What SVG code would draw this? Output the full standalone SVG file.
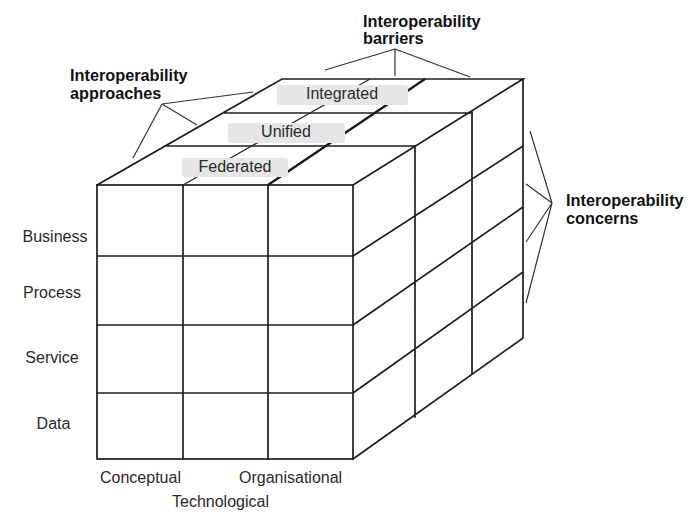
<svg xmlns="http://www.w3.org/2000/svg" width="700" height="512" viewBox="0 0 700 512">
<style>
.cube{stroke:#1e1e1e;stroke-width:1.7;fill:none;stroke-linecap:square}
.thin{stroke:#2a2a2a;stroke-width:1.3;fill:none}
.thick{stroke:#1a1a1a;stroke-width:2.4;fill:none}
.call{stroke:#333;stroke-width:1.2;fill:none}
.box{fill:#e6e6e6;stroke:none}
.lbl{font-family:"Liberation Sans",Arial,sans-serif;font-size:16px;fill:#2a2a2a}
.bold{font-family:"Liberation Sans",Arial,sans-serif;font-size:16.3px;font-weight:bold;fill:#111}
</style>
<rect width="700" height="512" fill="#fff"/>
<g id="cube">
  <rect class="cube" x="97" y="185" width="256" height="274"/>
  <path class="cube" d="M183 185V459M268 185V459M97 256H353M97 325H353M97 393H353"/>
  <path class="cube" d="M97 185L282 79H523L353 185M167 146H415M225 113H472"/>
  <path class="thin" d="M183 185L370 79"/>
  <path class="thick" d="M268 185L425 79"/>
  <path class="cube" d="M523 79V338L353 459M415 146V417M472 112V373M353 256L523 146M353 325L523 207M353 393L523 272"/>
</g>
<g id="approach-labels">
  <g id="federated"><rect class="box" x="182" y="158" width="106" height="19" rx="3"/><text class="lbl" x="235" y="172" text-anchor="middle">Federated</text></g>
  <g id="unified"><rect class="box" x="228" y="123" width="117" height="20" rx="3"/><text class="lbl" x="286" y="137" text-anchor="middle">Unified</text></g>
  <g id="integrated"><rect class="box" x="277" y="85" width="131" height="20" rx="3"/><text class="lbl" x="342" y="98.5" text-anchor="middle">Integrated</text></g>
</g>
<g id="concern-labels">
  <text id="business" class="lbl" x="55" y="242" text-anchor="middle">Business</text>
  <text id="process" class="lbl" x="52" y="298" text-anchor="middle">Process</text>
  <text id="service" class="lbl" x="52" y="363" text-anchor="middle">Service</text>
  <text id="data" class="lbl" x="53.5" y="429" text-anchor="middle">Data</text>
</g>
<g id="barrier-labels">
  <text id="conceptual" class="lbl" x="100" y="483">Conceptual</text>
  <text id="organisational" class="lbl" x="239" y="483">Organisational</text>
  <text id="technological" class="lbl" x="172" y="507">Technological</text>
</g>
<g id="titles">
  <text id="t-approaches" class="bold" x="70" y="81">Interoperability<tspan x="70" y="98.5">approaches</tspan></text>
  <text id="t-barriers" class="bold" x="363" y="27">Interoperability<tspan x="363" y="44">barriers</tspan></text>
  <text id="t-concerns" class="bold" x="566" y="206">Interoperability<tspan x="566" y="224">concerns</tspan></text>
</g>
<g id="connectors">
  <path class="call" d="M162 104L133 158M162 104L197 125M162 104L253 92"/>
  <path class="call" d="M395 49L325 70M395 49V76M395 49L470 77"/>
  <path class="call" d="M552 203L530 131M552 203L526 184M552 203L526 242M552 203L526 303"/>
</g>
</svg>
